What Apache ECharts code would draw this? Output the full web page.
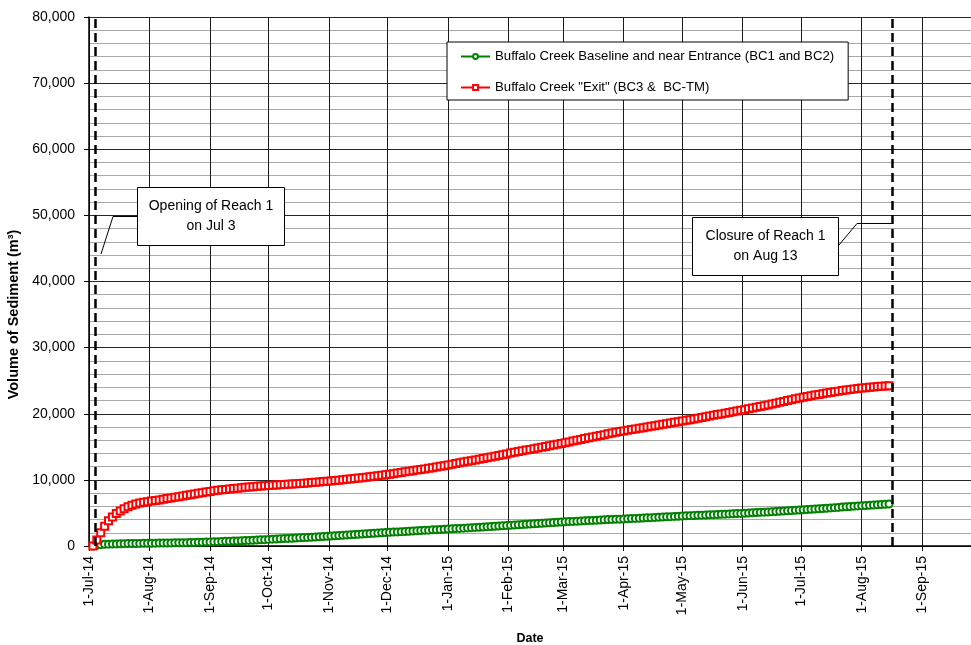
<!DOCTYPE html>
<html>
<head>
<meta charset="utf-8">
<script src="https://cdn.jsdelivr.net/npm/echarts@6/dist/echarts.min.js"></script>
<style>
html,body{margin:0;padding:0;background:#fff;}
#chart{width:971px;height:645px;}
</style>
</head>
<body>
<div id="chart"></div>
<script>
// ---- data (one reading every 2 days) ----
const seriesNames = ['Buffalo Creek Baseline and near Entrance (BC1 and BC2)', 'Buffalo Creek "Exit" (BC3 &  BC-TM)'];
const firstDate = '2014-07-03';
const stepDays = 2;
const greenValues = [
  0,120,200,250,280,300,320,335,350,360,370,380,390,400,410,
  420,430,440,450,460,470,480,490,500,510,520,535,550,570,590,
  610,630,650,675,700,725,750,775,800,825,850,875,900,930,960,
  1000,1030,1060,1090,1120,1150,1180,1210,1240,1270,1300,1330,1360,1400,1440,1480,
  1510,1550,1590,1630,1670,1700,1740,1780,1820,1850,1890,1930,1960,2000,2030,
  2070,2100,2130,2170,2200,2230,2270,2300,2340,2370,2400,2440,2470,2500,2530,
  2560,2590,2630,2660,2700,2740,2770,2810,2840,2880,2920,2950,2990,3020,3060,3090,
  3120,3160,3200,3240,3280,3320,3360,3400,3440,3480,3520,3560,3600,3630,
  3660,3690,3720,3750,3780,3810,3840,3870,3900,3930,3960,3990,4020,4040,4060,
  4080,4110,4140,4170,4200,4230,4260,4290,4320,4350,4380,4410,4440,4470,4500,
  4540,4560,4590,4610,4640,4660,4690,4720,4740,4770,4800,4820,4850,4870,4900,4930,
  4960,4990,5020,5050,5090,5120,5150,5190,5220,5260,5290,5330,5360,5400,5430,
  5470,5510,5550,5590,5630,5670,5710,5760,5800,5840,5890,5930,5980,6020,6060,
  6100,6130,6170,6200,6240,6270,6310,6350
];
const redValues = [
  0,900,2000,3000,3800,4400,4900,5300,5650,5950,6150,6350,6500,6600,6700,
  6800,6880,6970,7070,7170,7270,7370,7460,7560,7660,7760,7860,7960,8060,8160,
  8260,8340,8420,8490,8560,8630,8690,8750,8810,8870,8920,8970,9020,9060,9100,
  9140,9180,9220,9260,9300,9340,9380,9420,9460,9500,9540,9590,9640,9690,9740,9790,
  9840,9900,9960,10020,10080,10140,10200,10270,10340,10410,10480,10550,10620,10700,10780,
  10860,10940,11030,11120,11210,11300,11390,11480,11570,11660,11750,11850,11950,12050,12150,
  12250,12360,12470,12580,12690,12800,12910,13020,13130,13240,13350,13460,13570,13680,13790,13900,
  14060,14170,14280,14390,14500,14610,14720,14830,14940,15050,15160,15270,15380,15490,
  15610,15740,15870,16000,16120,16240,16360,16480,16600,16720,16840,16960,17080,17200,17320,
  17400,17500,17600,17700,17800,17900,18000,18100,18200,18300,18400,18500,18600,18700,18800,
  18900,19000,19100,19210,19320,19430,19540,19650,19760,19870,19980,20090,20200,20310,20420,20520,
  20620,20740,20860,20980,21100,21220,21340,21470,21600,21730,21860,21990,22120,22250,22380,
  22500,22610,22720,22830,22930,23030,23130,23230,23320,23410,23500,23590,23670,23750,23820,
  23880,23940,24000,24060,24110,24160,24210,24250
];
const eventDates = ['2014-07-04T10:00:00', '2015-08-16T10:00:00'];
const eventTexts = ['Opening of Reach 1\non Jul 3', 'Closure of Reach 1\non Aug 13'];
const axisMinDate = '2014-07-01T00:00:00';
const axisMaxDate = '2015-09-26T00:00:00';
const monthNames = ['Jan','Feb','Mar','Apr','May','Jun','Jul','Aug','Sep','Oct','Nov','Dec'];

// ---- build ----
const DAY = 86400000;
const t0 = new Date(firstDate + 'T00:00:00').getTime();
function pairs(vals){ return vals.map((v,i)=>[t0 + i*stepDays*DAY, v]); }

const FONT = '"Liberation Sans", Arial, sans-serif';
const chart = echarts.init(document.getElementById('chart'), null, {renderer:'canvas'});

function calloutBox(x, y, w, h, text){
  return [
    {type: 'rect', z: 60, shape: {x: x, y: y, width: w, height: h},
     style: {fill: '#fff', stroke: '#000', lineWidth: 1}},
    {type: 'text', z: 61, x: x + w/2, y: y + h/2,
     style: {text: text, align: 'center', verticalAlign: 'middle',
             font: '14px ' + FONT, fill: '#000', lineHeight: 20}}
  ];
}

chart.setOption({
  animation: false,
  backgroundColor: '#ffffff',
  textStyle: {fontFamily: FONT},
  grid: {left: 89, top: 17, right: 0, bottom: 99, containLabel: false, outerBoundsMode: 'none'},
  legend: {
    orient: 'vertical', left: 447, top: 42,
    backgroundColor: '#ffffff', borderColor: '#000', borderWidth: 1,
    padding: [8, 14, 6, 13], itemGap: 18, itemWidth: 29, itemHeight: 6,
    textStyle: {fontFamily: FONT, fontSize: 13.2, color: '#000'},
    data: seriesNames
  },
  xAxis: {
    type: 'time',
    min: new Date(axisMinDate).getTime(),
    max: new Date(axisMaxDate).getTime(),
    minInterval: 28*DAY, maxInterval: 31*DAY,
    name: 'Date', nameLocation: 'middle', nameGap: 86,
    nameTextStyle: {fontFamily: FONT, fontWeight: 'bold', fontSize: 12.5, color: '#000'},
    axisLine: {show: true, onZero: false, lineStyle: {color: '#000', width: 1.5}},
    axisTick: {show: true, inside: false, length: 5, lineStyle: {color: '#000'}},
    splitLine: {show: true, lineStyle: {color: '#1a1a1a', width: 1}},
    axisLabel: {
      rotate: 90, margin: 10, fontSize: 14, color: '#000', fontFamily: FONT,
      showMinLabel: true, showMaxLabel: false, hideOverlap: false,
      formatter: function(v){
        const d = new Date(v);
        return d.getDate() + '-' + monthNames[d.getMonth()] + '-' + String(d.getFullYear()).slice(2);
      }
    }
  },
  yAxis: {
    type: 'value', min: 0, max: 80000, interval: 10000,
    name: 'Volume of Sediment (m³)', nameLocation: 'middle', nameGap: 64,
    nameTextStyle: {fontFamily: FONT, fontWeight: 'bold', fontSize: 14.5, color: '#000',
      padding: [0, 66, 0, 0]},
    axisLine: {show: true, lineStyle: {color: '#000', width: 1.5}},
    axisTick: {show: true, length: 5, lineStyle: {color: '#000'}},
    axisLabel: {fontSize: 14, color: '#000', margin: 14, fontFamily: FONT,
      formatter: v => v.toLocaleString('en-US')},
    splitLine: {show: true, lineStyle: {color: '#262626', width: 1}},
    minorTick: {show: false, splitNumber: 5},
    minorSplitLine: {show: true, lineStyle: {color: '#a8a8a8', width: 1}}
  },
  series: [
    {
      name: seriesNames[0], type: 'line', data: pairs(greenValues),
      symbol: 'emptyCircle', symbolSize: 7, showAllSymbol: true,
      color: '#008000',
      itemStyle: {color: '#008000', borderColor: '#008000', borderWidth: 1.5},
      lineStyle: {color: '#008000', width: 1},
      z: 3
    },
    {
      name: seriesNames[1], type: 'line', data: pairs(redValues),
      symbol: 'emptyRect', symbolSize: 7, showAllSymbol: true,
      color: '#ff0000',
      itemStyle: {color: '#ff0000', borderColor: '#ff0000', borderWidth: 1.5},
      lineStyle: {color: '#ff0000', width: 1},
      z: 4,
      markLine: {
        silent: true, symbol: ['none','none'], animation: false,
        label: {show: false},
        lineStyle: {color: '#000', width: 2.5, type: [9, 5]},
        data: eventDates.map(d => ({xAxis: new Date(d).getTime()}))
      }
    }
  ],
  graphic: [
    {type: 'polyline', z: 50, shape: {points: [[101,254],[113,216.5],[137,216.5]]},
     style: {stroke: '#000', lineWidth: 1, fill: null}},
    {type: 'polyline', z: 50, shape: {points: [[839,245],[857,223.5],[892,223.5]]},
     style: {stroke: '#000', lineWidth: 1, fill: null}}
  ].concat(calloutBox(137.5, 187.5, 147, 58, eventTexts[0]))
   .concat(calloutBox(692.5, 217.5, 146, 58, eventTexts[1]))
});
</script>
</body>
</html>
